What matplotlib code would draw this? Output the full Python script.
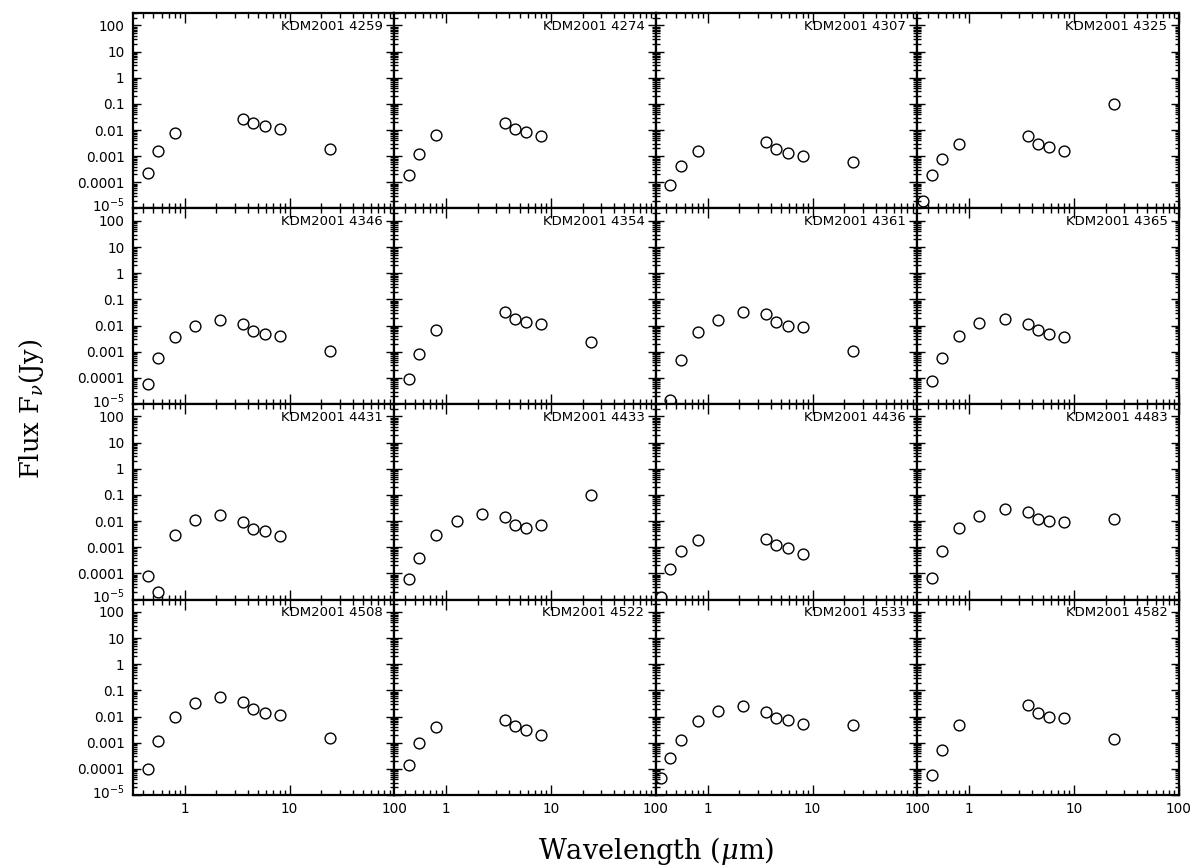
import matplotlib
matplotlib.use("Agg")
import matplotlib.pyplot as plt
import matplotlib.transforms as mtransforms
import numpy as np
from matplotlib.ticker import FixedLocator, FixedFormatter, LogLocator, NullFormatter

plt.rcParams["mathtext.fontset"] = "dejavusans"

# Band centres (micron): U B V I J Ks IRAC1-4 MIPS24
wavelength = [0.36, 0.44, 0.55, 0.80, 1.25, 2.17, 3.6, 4.5, 5.8, 8.0, 24.0]

nan = np.nan
# Fluxes in Jy, same band order as above (nan = no measurement)
f_4259 = [nan, 2.3e-4, 1.6e-3, 7.7e-3, nan, nan, 0.026, 0.018, 0.0147, 0.011, 1.9e-3]
f_4274 = [nan, 1.9e-4, 1.26e-3, 6.4e-3, nan, nan, 0.019, 0.011, 8.4e-3, 6.0e-3, nan]
f_4307 = [nan, 8.0e-5, 4.4e-4, 1.6e-3, nan, nan, 3.5e-3, 1.85e-3, 1.3e-3, 1.0e-3, 5.9e-4]
f_4325 = [1.9e-5, 1.87e-4, 8.1e-4, 3.0e-3, nan, nan, 5.7e-3, 3.0e-3, 2.2e-3, 1.6e-3, 0.103]
f_4346 = [nan, 5.9e-5, 5.5e-4, 3.7e-3, 0.010, 0.0165, 0.0112, 6.3e-3, 4.9e-3, 4.1e-3, 1.09e-3]
f_4354 = [nan, 9.2e-5, 8.4e-4, 6.8e-3, nan, nan, 0.034, 0.018, 0.0135, 0.011, 2.4e-3]
f_4361 = [nan, 1.4e-5, 4.9e-4, 5.5e-3, 0.016, 0.034, 0.027, 0.014, 9.4e-3, 9.1e-3, 1.1e-3]
f_4365 = [nan, 7.7e-5, 6.0e-4, 3.9e-3, 0.0123, 0.0186, 0.0116, 6.6e-3, 4.8e-3, 3.5e-3, nan]
f_4431 = [nan, 7.7e-5, 1.9e-5, 3.0e-3, 0.0113, 0.017, 8.9e-3, 5.1e-3, 4.0e-3, 2.7e-3, nan]
f_4433 = [nan, 6.2e-5, 4.0e-4, 2.9e-3, 9.7e-3, 0.019, 0.0146, 7.1e-3, 5.5e-3, 6.8e-3, 0.103]
f_4436 = [1.3e-5, 1.47e-4, 7.2e-4, 1.97e-3, nan, nan, 2.0e-3, 1.23e-3, 9.2e-4, 5.7e-4, nan]
f_4483 = [nan, 6.8e-5, 7.2e-4, 5.4e-3, 0.0156, 0.030, 0.023, 0.0123, 9.7e-3, 9.2e-3, 0.012]
f_4508 = [nan, 1.0e-4, 1.13e-3, 9.4e-3, 0.032, 0.055, 0.036, 0.020, 0.0143, 0.012, 1.56e-3]
f_4522 = [nan, 1.4e-4, 1.0e-3, 3.9e-3, nan, nan, 7.2e-3, 4.3e-3, 3.2e-3, 2.0e-3, nan]
f_4533 = [4.4e-5, 2.7e-4, 1.3e-3, 6.8e-3, 0.017, 0.025, 0.0156, 8.9e-3, 7.6e-3, 5.2e-3, 4.8e-3]
f_4582 = [nan, 5.9e-5, 5.5e-4, 4.8e-3, nan, nan, 0.027, 0.0143, 9.7e-3, 9.1e-3, 1.42e-3]

names = ["KDM2001 4259", "KDM2001 4274", "KDM2001 4307", "KDM2001 4325",
         "KDM2001 4346", "KDM2001 4354", "KDM2001 4361", "KDM2001 4365",
         "KDM2001 4431", "KDM2001 4433", "KDM2001 4436", "KDM2001 4483",
         "KDM2001 4508", "KDM2001 4522", "KDM2001 4533", "KDM2001 4582"]
fluxes = [f_4259, f_4274, f_4307, f_4325, f_4346, f_4354, f_4361, f_4365,
          f_4431, f_4433, f_4436, f_4483, f_4508, f_4522, f_4533, f_4582]

y_ticks = [1e-5, 1e-4, 1e-3, 1e-2, 0.1, 1, 10, 100]
# lowest label is drawn separately, nudged up so it clears the "100" below
y_labels = ["", "0.0001", "0.001", "0.01", "0.1", "1", "10", "100"]
y_bottom_label = r"$10^{-5}$"
x_ticks = [1, 10, 100]
x_labels = ["1", "10", "100"]

fig, axes = plt.subplots(4, 4, figsize=(11.94, 8.65), dpi=100)
fig.subplots_adjust(left=0.1114, right=0.9874, top=0.985, bottom=0.0809,
                    wspace=0, hspace=0)

wl = np.array(wavelength)
for i, ax in enumerate(axes.flat):
    row, col = divmod(i, 4)
    flux = np.array(fluxes[i])
    ok = ~np.isnan(flux)
    ax.plot(wl[ok], flux[ok], "o", ms=7.8, mfc="none", mec="black",
            mew=1.0, clip_on=False)

    ax.set_xscale("log")
    ax.set_yscale("log")
    ax.set_xlim(0.32, 100)
    ax.set_ylim(1e-5, 300)

    ax.xaxis.set_major_locator(FixedLocator(x_ticks))
    ax.xaxis.set_minor_locator(LogLocator(base=10, subs=np.arange(2, 10)))
    ax.yaxis.set_major_locator(FixedLocator(y_ticks))
    ax.yaxis.set_minor_locator(LogLocator(base=10, subs=np.arange(2, 10), numticks=20))
    ax.xaxis.set_minor_formatter(NullFormatter())
    ax.yaxis.set_minor_formatter(NullFormatter())

    if row == 3:
        ax.xaxis.set_major_formatter(FixedFormatter(x_labels))
    else:
        ax.xaxis.set_major_formatter(NullFormatter())
    if col == 0:
        ax.yaxis.set_major_formatter(FixedFormatter(y_labels))
        trans = mtransforms.offset_copy(ax.get_yaxis_transform(), fig=fig,
                                        x=-6, y=1.8, units="points")
        ax.text(0, y_ticks[0], y_bottom_label, transform=trans, ha="right",
                va="center", fontsize=9.8)
    else:
        ax.yaxis.set_major_formatter(NullFormatter())

    ax.tick_params(which="both", direction="in", top=True, right=True,
                   width=1.0, labelsize=9.8)
    ax.tick_params(axis="x", which="major", length=7, pad=5)
    ax.tick_params(axis="x", which="minor", length=3.5)
    ax.tick_params(axis="y", which="major", length=6, pad=6)
    ax.tick_params(axis="y", which="minor", length=3)
    for sp in ax.spines.values():
        sp.set_linewidth(1.6)

    ax.text(0.956, 0.933, names[i], transform=ax.transAxes, ha="right",
            va="center", fontsize=9.5)

fig.text(0.026, 0.527, r"Flux F$_{\nu}$(Jy)", rotation=90, ha="center",
         va="center", family="DejaVu Serif", fontsize=18.5,
         math_fontfamily="dejavuserif")
fig.text(0.55, 0.016, r"Wavelength ($\mu$m)", ha="center", va="center",
         family="DejaVu Serif", fontsize=19.5, math_fontfamily="dejavuserif")

fig.savefig("out.png", dpi=100)
